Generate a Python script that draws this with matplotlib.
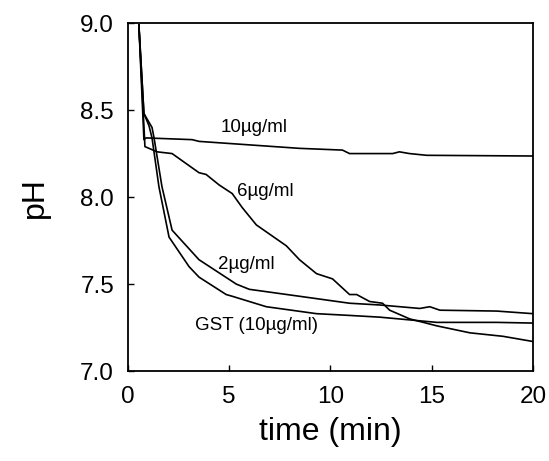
import matplotlib
matplotlib.use("Agg")
import matplotlib.pyplot as plt

plt.rcParams['font.family'] = ['Liberation Sans', 'DejaVu Sans']

# time (min) and pH for each trace
t_10 = [0.54, 0.79, 0.89, 3.17, 3.51, 5.99, 8.47, 10.59, 10.94, 13.07, 13.4, 13.9, 14.75, 20.0]
ph_10 = [8.99, 8.33, 8.34, 8.33, 8.32, 8.30, 8.28, 8.27, 8.25, 8.25, 8.26, 8.25, 8.24, 8.236]

t_6 = [0.54, 0.84, 1.44, 2.18, 3.51, 3.86, 4.50, 5.15, 5.64, 6.34, 7.82, 8.47, 9.31, 10.10,
       10.94, 11.29, 11.93, 12.57, 12.92, 13.91, 15.25, 16.88, 18.51, 20.0]
ph_6 = [8.99, 8.29, 8.26, 8.25, 8.14, 8.13, 8.07, 8.02, 7.94, 7.84, 7.72, 7.64, 7.56, 7.53,
        7.44, 7.44, 7.40, 7.39, 7.35, 7.30, 7.26, 7.22, 7.20, 7.17]

t_2 = [0.54, 0.79, 1.19, 1.29, 1.68, 2.18, 3.51, 5.35, 5.99, 8.47, 10.94, 12.43, 14.41, 14.9,
       15.4, 18.2, 20.0]
ph_2 = [8.99, 8.48, 8.40, 8.34, 8.06, 7.81, 7.64, 7.50, 7.47, 7.43, 7.39, 7.38, 7.36, 7.37,
        7.35, 7.345, 7.33]

t_gst = [0.54, 0.79, 1.04, 1.19, 1.53, 2.03, 3.02, 3.51, 4.85, 5.15, 6.83, 9.31, 10.94, 12.43,
         15.25, 18.2, 20.0]
ph_gst = [8.99, 8.48, 8.41, 8.34, 8.06, 7.77, 7.60, 7.54, 7.44, 7.43, 7.37, 7.33, 7.32, 7.31,
          7.28, 7.28, 7.276]

labels = ["10µg/ml", "6µg/ml", "2µg/ml", "GST (10µg/ml)"]
label_pos = [(6.24, 8.40), (6.78, 8.03), (5.84, 7.61), (6.34, 7.26)]

x_ticks = [0, 5, 10, 15, 20]
y_ticks = [7.0, 7.5, 8.0, 8.5, 9.0]

fig = plt.figure(figsize=(5.49, 4.61), dpi=100)
ax = fig.add_axes([0.233, 0.195, 0.738, 0.755])

for t, p in [(t_10, ph_10), (t_6, ph_6), (t_2, ph_2), (t_gst, ph_gst)]:
    ax.plot(t, p, color='black', lw=1.2)

for lab, (x, y) in zip(labels, label_pos):
    ax.text(x, y, lab, ha='center', va='center', fontsize=13.5)

ax.set_xlim(0, 20)
ax.set_ylim(7.0, 9.0)
ax.set_xticks(x_ticks)
ax.set_xticklabels([str(v) for v in x_ticks])
ax.set_yticks(y_ticks)
ax.set_yticklabels([f"{v:.1f}" for v in y_ticks])
ax.tick_params(direction='in', length=4, width=1, labelsize=17.5)
ax.tick_params(axis='x', pad=11)
ax.tick_params(axis='y', pad=10)
for s in ax.spines.values():
    s.set_linewidth(1.3)

ax.set_xlabel("time (min)", fontsize=23, labelpad=6)
ax.set_ylabel("pH", fontsize=23, labelpad=22)

fig.savefig("out.png", dpi=100)
